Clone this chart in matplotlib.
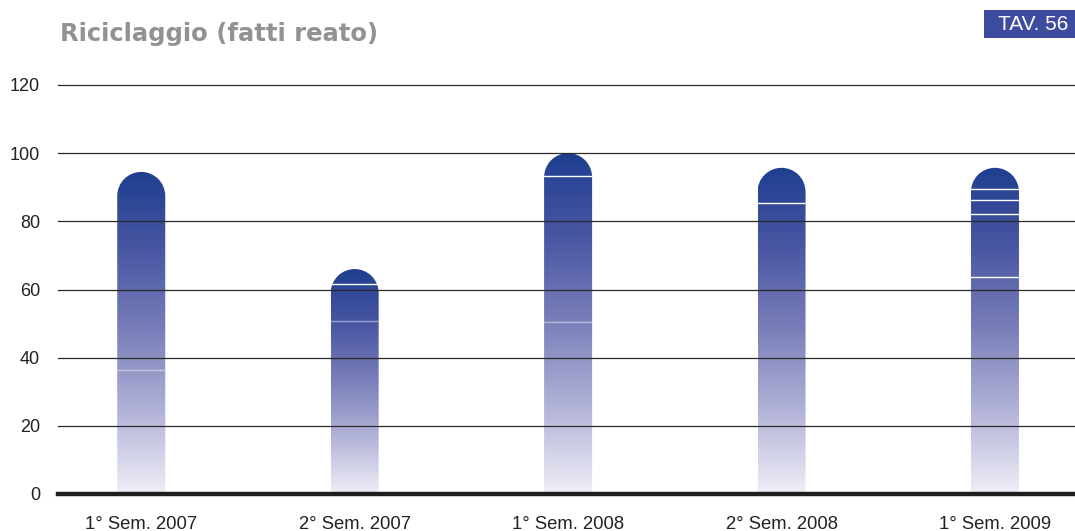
import matplotlib
matplotlib.use("Agg")
import matplotlib.pyplot as plt
import numpy as np
from matplotlib.path import Path
from matplotlib.patches import PathPatch, Rectangle
from matplotlib.colors import LinearSegmentedColormap
from matplotlib.transforms import Affine2D

plt.rcParams['font.family'] = ['Liberation Sans', 'DejaVu Sans']

# ---- data ----
categories = ["1° Sem. 2007", "2° Sem. 2007", "1° Sem. 2008", "2° Sem. 2008", "1° Sem. 2009"]
values = [94.5, 66, 100, 95.7, 95.7]
# thin white seams visible inside the bars (strong, faint)
seams_strong = [[], [61.5], [93.3], [85.4], [63.8, 82.2, 86.3, 89.5]]
seams_faint = [[36.4], [50.8], [50.5], [], []]
yticks = [0, 20, 40, 60, 80, 100, 120]
title = "Riciclaggio (fatti reato)"
tav = "TAV. 56"

W, H = 1075, 531
fig = plt.figure(figsize=(W / 100, H / 100), dpi=100)
ax = fig.add_axes([58 / W, (H - 494) / H, (W - 58) / W, 409 / H])

x = np.arange(len(categories))
bw = 0.225
ax.set_xlim(-0.39, 4.375)
ax.set_ylim(0, 120)

cmap = LinearSegmentedColormap.from_list(
    "bluegrad",
    [(0.0, "#efeef7"), (0.25, "#b3b4d8"), (0.5, "#7b80ba"), (0.75, "#4a57a3"), (1.0, "#1f3e90")])

# pixel scale to make round caps circular
fig.canvas.draw()
p0 = ax.transData.transform((0, 0))
p1 = ax.transData.transform((1, 1))
px_per_x = p1[0] - p0[0]
px_per_y = p1[1] - p0[1]
rx = bw / 2
ry = rx * px_per_x / px_per_y

grad = np.linspace(0, 1, 256).reshape(-1, 1)

for xi, v, ss, sf in zip(x, values, seams_strong, seams_faint):
    left, right = xi - bw / 2, xi + bw / 2
    top_straight = v - ry
    arc = Path.arc(0, 180)
    arc_verts = Affine2D().scale(rx, ry).translate(xi, top_straight).transform(arc.vertices)
    verts = [(left, 0), (right, 0), (right, top_straight)]
    codes = [Path.MOVETO, Path.LINETO, Path.LINETO]
    verts += list(arc_verts[1:])
    codes += list(arc.codes[1:])
    verts += [(left, 0), (left, 0)]
    codes += [Path.LINETO, Path.CLOSEPOLY]
    path = Path(verts, codes)
    patch = PathPatch(path, facecolor="none", edgecolor="none")
    ax.add_patch(patch)
    im = ax.imshow(grad, cmap=cmap, origin="lower", aspect="auto",
                   extent=[left, right, 0, v], zorder=1, interpolation="bilinear")
    im.set_clip_path(patch)
    for s in ss:
        ln, = ax.plot([left, right], [s, s], color="white", lw=1.0, zorder=1.5)
        ln.set_clip_path(patch)
    for s in sf:
        ln, = ax.plot([left, right], [s, s], color="white", lw=1.0, alpha=0.45, zorder=1.5)
        ln.set_clip_path(patch)

# gridlines on top of bars
for t in yticks[1:]:
    ax.axhline(t, color="#2a2a2a", lw=0.9, zorder=3, clip_on=False)
ax.axhline(0, color="#1e1e1e", lw=3.2, zorder=4, clip_on=False)

for sp in ax.spines.values():
    sp.set_visible(False)
ax.set_yticks(yticks)
ax.set_yticklabels([str(t) for t in yticks], fontsize=13, color="#222222")
ax.set_xticks(x)
ax.set_xticklabels(categories, fontsize=13.3, color="#222222")
ax.tick_params(axis="y", length=0, pad=13)
ax.tick_params(axis="x", length=0, pad=15.5)
ax.patch.set_alpha(0)

fig.text(60 / W, 1 - 34 / H, title, fontsize=17.5, fontweight="bold",
         color="#929292", ha="left", va="center", family="DejaVu Sans")
fig.patches.append(Rectangle((984 / W, 1 - 38 / H), (W - 984) / W, 28 / H,
                             transform=fig.transFigure, facecolor="#3e4c9f",
                             edgecolor="none", figure=fig))
fig.text(1033 / W, 1 - 25 / H, tav, fontsize=15, color="white",
         ha="center", va="center")

fig.savefig("out.png", dpi=100)
